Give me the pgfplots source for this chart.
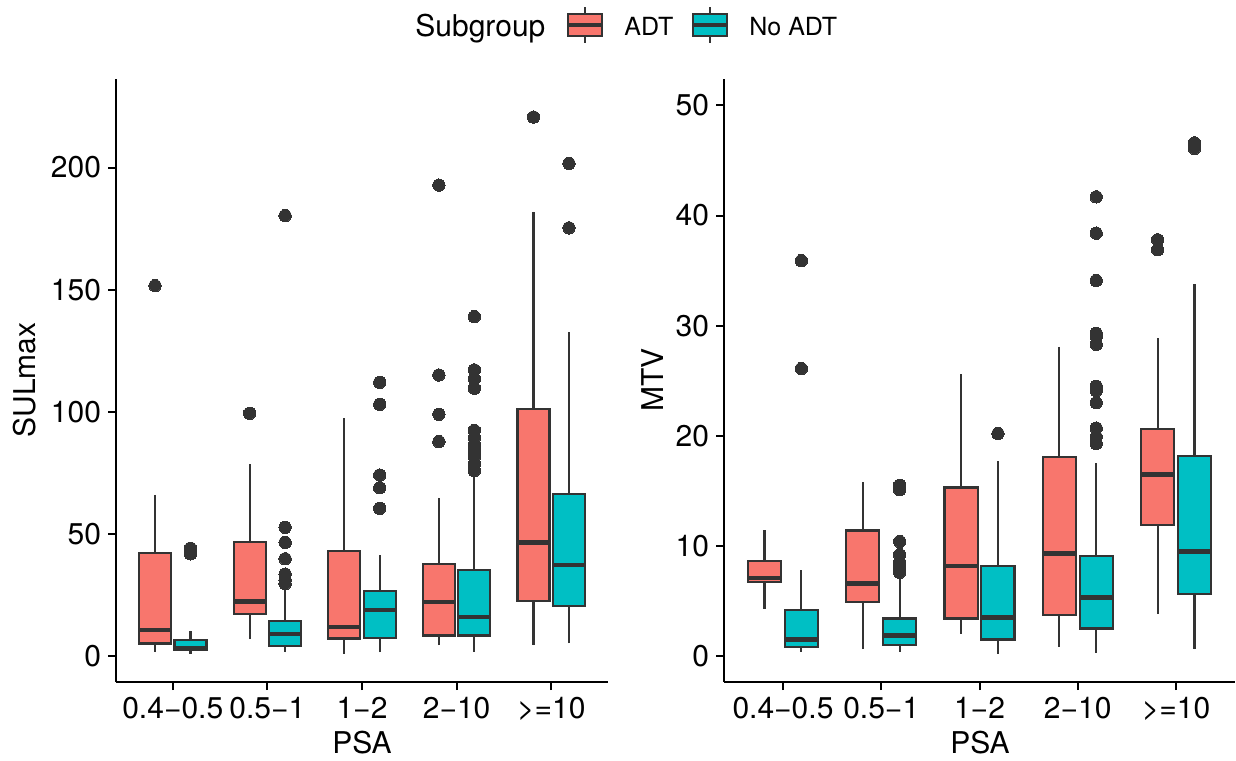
\documentclass[border=0pt]{standalone}
\usepackage{fontspec}
\setmainfont{TeX Gyre Heros}
\usepackage{pgfplots}
\pgfplotsset{compat=1.18}
\usepgfplotslibrary{statistics}
\definecolor{adt}{HTML}{F8766D}
\definecolor{noadt}{HTML}{00BFC4}
\definecolor{dk}{HTML}{333333}
\newcommand{\txt}{\fontsize{15}{18}\selectfont}
\newcommand{\lgt}{\fontsize{12.5}{15}\selectfont}
\pgfplotsset{
  panel/.style={
    scale only axis, height=301.5pt,
    xmin=0.4, xmax=5.6, xtick={1,2,3,4,5},
    xticklabels={0.4−0.5,0.5−1,1−2,2−10,>=10},
    axis x line*=bottom, axis y line*=left,
    axis line style={line width=1pt, black, -},
    tick style={line width=1pt, black},
    tick align=outside, major tick length=4pt,
    ticklabel style={font=\txt, text=black},
    /pgf/number format/assume math mode=true,
    boxplot/draw direction=y,
    boxplot/box extend=0.3375, boxplot/whisker extend=0,
    boxplot/every median/.style={line width=2.2pt},
  },
  adtbox/.style={draw=dk, fill=adt, line width=1.1pt, mark=*, mark size=3.1pt,
    mark options={fill=dk, draw=dk, line width=0pt}},
  noadtbox/.style={draw=dk, fill=noadt, line width=1.1pt, mark=*, mark size=3.1pt,
    mark options={fill=dk, draw=dk, line width=0pt}},
}
\begin{document}
\begin{tikzpicture}
\path (0,0) rectangle (618pt,-380pt);
% SULmax
\begin{axis}[panel, width=246pt, at={(58pt,-39.5pt)}, anchor=north west,
  ymin=-10.8, ymax=236.3, ytick={0,50,100,150,200}]
  \addplot[adtbox, boxplot prepared={draw position=0.8125, lower whisker=1.3,
    lower quartile=5, median=10.5, upper quartile=42, upper whisker=66}]
    table[row sep=\\, y index=0] {y\\ 151.6\\};
  \addplot[noadtbox, boxplot prepared={draw position=1.1875, lower whisker=0.8,
    lower quartile=2.4, median=3.2, upper quartile=6.4, upper whisker=10.3}]
    table[row sep=\\, y index=0] {y\\ 41.7\\ 44\\};
  \addplot[adtbox, boxplot prepared={draw position=1.8125, lower whisker=6.7,
    lower quartile=17.2, median=22.2, upper quartile=46.7, upper whisker=78.5}]
    table[row sep=\\, y index=0] {y\\ 99.3\\};
  \addplot[noadtbox, boxplot prepared={draw position=2.1875, lower whisker=1.3,
    lower quartile=3.8, median=8.8, upper quartile=14.2, upper whisker=28}]
    table[row sep=\\, y index=0] {y\\ 29.5\\ 31\\ 33.4\\ 39.7\\ 46.4\\ 52.6\\ 180.3\\};
  \addplot[adtbox, boxplot prepared={draw position=2.8125, lower whisker=0.8,
    lower quartile=7, median=11.7, upper quartile=43, upper whisker=97.2}]
    coordinates {};
  \addplot[noadtbox, boxplot prepared={draw position=3.1875, lower whisker=1.3,
    lower quartile=7.3, median=18.7, upper quartile=26.4, upper whisker=41.2}]
    table[row sep=\\, y index=0] {y\\ 60.4\\ 68.8\\ 74\\ 103\\ 112\\};
  \addplot[adtbox, boxplot prepared={draw position=3.8125, lower whisker=4.2,
    lower quartile=8.3, median=22, upper quartile=37.4, upper whisker=64.8}]
    table[row sep=\\, y index=0] {y\\ 87.7\\ 98.9\\ 115\\ 192.8\\};
  \addplot[noadtbox, boxplot prepared={draw position=4.1875, lower whisker=1.7,
    lower quartile=8.3, median=15.9, upper quartile=35, upper whisker=73.4}]
    table[row sep=\\, y index=0] {y\\ 75.8\\ 78.5\\ 81.5\\ 84\\ 86.5\\ 89.3\\ 92.3\\ 109.6\\ 113.4\\ 117.1\\ 138.9\\};
  \addplot[adtbox, boxplot prepared={draw position=4.8125, lower whisker=4.2,
    lower quartile=22.5, median=46.4, upper quartile=101, upper whisker=182}]
    table[row sep=\\, y index=0] {y\\ 220.7\\};
  \addplot[noadtbox, boxplot prepared={draw position=5.1875, lower whisker=5,
    lower quartile=20.4, median=37.2, upper quartile=66.4, upper whisker=132.7}]
    table[row sep=\\, y index=0] {y\\ 175.3\\ 201.7\\};
\end{axis}
% MTV
\begin{axis}[panel, width=255.5pt, at={(362pt,-39.5pt)}, anchor=north west,
  ymin=-2.36, ymax=52.4, ytick={0,10,20,30,40,50}]
  \addplot[adtbox, boxplot prepared={draw position=0.8125, lower whisker=4.3,
    lower quartile=6.7, median=7.1, upper quartile=8.6, upper whisker=11.4}]
    coordinates {};
  \addplot[noadtbox, boxplot prepared={draw position=1.1875, lower whisker=0.4,
    lower quartile=0.8, median=1.5, upper quartile=4.15, upper whisker=7.8}]
    table[row sep=\\, y index=0] {y\\ 26.1\\ 35.9\\};
  \addplot[adtbox, boxplot prepared={draw position=1.8125, lower whisker=0.6,
    lower quartile=4.9, median=6.6, upper quartile=11.4, upper whisker=15.8}]
    coordinates {};
  \addplot[noadtbox, boxplot prepared={draw position=2.1875, lower whisker=0.4,
    lower quartile=1.0, median=1.85, upper quartile=3.4, upper whisker=7.2}]
    table[row sep=\\, y index=0] {y\\ 7.6\\ 8.0\\ 8.5\\ 9.2\\ 10.4\\ 15.1\\ 15.5\\};
  \addplot[adtbox, boxplot prepared={draw position=2.8125, lower whisker=2.0,
    lower quartile=3.4, median=8.2, upper quartile=15.3, upper whisker=25.6}]
    coordinates {};
  \addplot[noadtbox, boxplot prepared={draw position=3.1875, lower whisker=0.2,
    lower quartile=1.5, median=3.5, upper quartile=8.2, upper whisker=17.7}]
    table[row sep=\\, y index=0] {y\\ 20.2\\};
  \addplot[adtbox, boxplot prepared={draw position=3.8125, lower whisker=0.85,
    lower quartile=3.7, median=9.3, upper quartile=18.1, upper whisker=28.1}]
    coordinates {};
  \addplot[noadtbox, boxplot prepared={draw position=4.1875, lower whisker=0.3,
    lower quartile=2.5, median=5.3, upper quartile=9.1, upper whisker=17.5}]
    table[row sep=\\, y index=0] {y\\ 19.3\\ 19.9\\ 20.7\\ 23.0\\ 24.1\\ 24.5\\ 28.3\\ 29.0\\ 29.3\\ 34.1\\ 38.4\\ 41.7\\};
  \addplot[adtbox, boxplot prepared={draw position=4.8125, lower whisker=3.8,
    lower quartile=11.9, median=16.5, upper quartile=20.6, upper whisker=28.9}]
    table[row sep=\\, y index=0] {y\\ 36.9\\ 37.8\\};
  \addplot[noadtbox, boxplot prepared={draw position=5.1875, lower whisker=0.6,
    lower quartile=5.6, median=9.5, upper quartile=18.2, upper whisker=33.8}]
    table[row sep=\\, y index=0] {y\\ 46.1\\ 46.6\\};
\end{axis}
\begin{scope}[x=0.5pt, y=-0.5pt, font=\txt]
  \node[anchor=base, inner sep=0] at (362,753) {PSA};
  \node[anchor=base, inner sep=0] at (980,753) {PSA};
  \node[rotate=90, anchor=base, inner sep=0] at (35,380) {SULmax};
  \node[rotate=90, anchor=base, inner sep=0] at (663,380) {MTV};
  % legend
  \node[anchor=base west, inner sep=0] at (415,36) {Subgroup};
  \draw[dk, line width=1.1pt] (585,7)--(585,14) (585,36)--(585,43);
  \draw[dk, line width=1.1pt, fill=adt] (568,14) rectangle (602,36);
  \draw[dk, line width=2.2pt] (568,25)--(602,25);
  \node[anchor=base west, inner sep=0, font=\lgt] at (624,35) {ADT};
  \draw[dk, line width=1.1pt] (710,7)--(710,14) (710,36)--(710,43);
  \draw[dk, line width=1.1pt, fill=noadt] (693,14) rectangle (727,36);
  \draw[dk, line width=2.2pt] (693,25)--(727,25);
  \node[anchor=base west, inner sep=0, font=\lgt] at (749,35) {No ADT};
\end{scope}
\end{tikzpicture}
\end{document}
